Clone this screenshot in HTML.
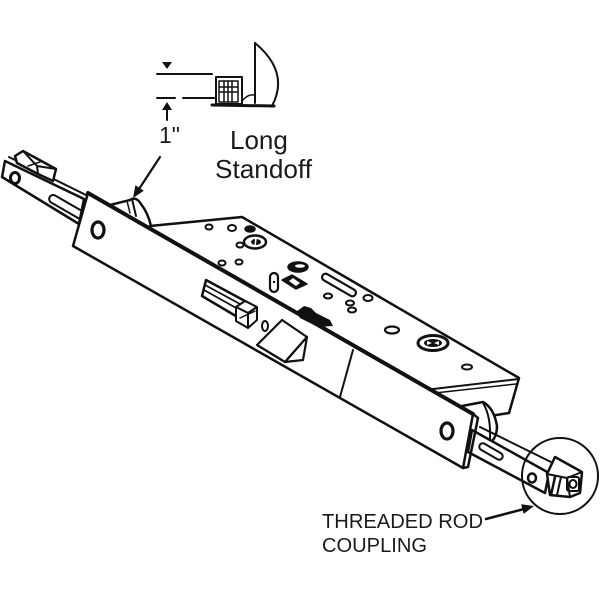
<!DOCTYPE html>
<html><head><meta charset="utf-8"><style>
html,body{margin:0;padding:0;background:#fff;}
svg{display:block;}
text{font-family:"Liberation Sans",Arial,sans-serif;fill:#1a1a1a;}
</style></head><body>
<svg width="600" height="600" viewBox="0 0 600 600" xmlns="http://www.w3.org/2000/svg">
<rect width="600" height="600" fill="#fff"/>
<g fill="none" stroke="#111" stroke-width="2.5" stroke-linejoin="round" stroke-linecap="round">

<!-- ===== Standoff detail (top) ===== -->
<polygon points="162,62 172,62 167,69" fill="#111" stroke="none"/>
<line x1="157" y1="74" x2="212" y2="74" stroke-width="2"/>
<line x1="157" y1="98" x2="175" y2="98" stroke-width="2"/>
<line x1="183" y1="98" x2="214" y2="98" stroke-width="2"/>
<polygon points="162,110 172,110 167,102" fill="#111" stroke="none"/>
<line x1="167" y1="108" x2="167" y2="120" stroke-width="2"/>
<rect x="216" y="77" width="26" height="27" stroke-width="2"/>
<rect x="219" y="81" width="19" height="21" stroke-width="1.5"/>
<line x1="224" y1="81" x2="224" y2="102" stroke-width="1.5"/>
<line x1="228" y1="81" x2="228" y2="102" stroke-width="1.5"/>
<line x1="232" y1="81" x2="232" y2="102" stroke-width="1.5"/>
<line x1="219" y1="87" x2="238" y2="87" stroke-width="1.5"/>
<line x1="219" y1="92" x2="238" y2="92" stroke-width="1.5"/>
<line x1="255" y1="43" x2="255" y2="103" stroke-width="2"/>
<path d="M255,43 Q290,72 272,106" stroke-width="2"/>
<line x1="212" y1="105" x2="274" y2="106" stroke-width="3"/>
<path d="M243,100 Q248,94 254,95" stroke-width="1.5"/>

<!-- 1" arrow -->
<line x1="160" y1="157" x2="139" y2="189" stroke-width="2.2"/>
<polygon points="133,198 143.8,190.8 135.4,185.2" fill="#111" stroke="none"/>

<!-- ===== Left rod ===== -->
<polygon points="5,161 84,199 79,224 2,177" fill="#fff"/>
<line x1="9" y1="157" x2="86" y2="195" stroke-width="2"/>
<ellipse cx="15" cy="178" rx="4.5" ry="5.5" stroke-width="3"/>
<rect x="47" y="203" width="40" height="8" rx="4" transform="rotate(30 67 207)" stroke-width="2"/>
<polygon points="15,156 23,151 56,169 53,181 38,174 17,163" fill="#fff"/>
<polyline points="23,151 37,166 56,169" stroke-width="2"/>
<line x1="37" y1="166" x2="38" y2="174" stroke-width="2"/>
<line x1="28" y1="166" x2="40" y2="162" stroke-width="1.5"/>

<!-- left standoff -->
<path d="M110,205 L130,200 Q136,196 141,204 Q148,213 151,226" fill="#fff"/>
<line x1="132" y1="199" x2="136" y2="216" stroke-width="2"/>
<line x1="127" y1="201" x2="130" y2="213" stroke-width="1.5"/>

<!-- ===== Case body ===== -->
<polygon points="150,226 242,217 519,378 509,413 490,416 440,400 150,245" fill="#fff"/>
<line x1="433" y1="389" x2="519" y2="379" stroke-width="2"/>
<line x1="435" y1="393" x2="516" y2="384" stroke-width="1.5"/>

<!-- holes on case -->
<ellipse cx="209" cy="227" rx="3.5" ry="2.5" stroke-width="2"/>
<ellipse cx="232" cy="228" rx="4" ry="3" stroke-width="2"/>
<ellipse cx="250" cy="229" rx="5" ry="3" fill="#111" stroke-width="1.5"/>
<ellipse cx="255" cy="242" rx="11" ry="6.5" stroke-width="2.5"/>
<ellipse cx="256" cy="242" rx="5" ry="3" fill="#111" stroke="none"/>
<line x1="256" y1="238" x2="255" y2="246" stroke="#fff" stroke-width="1.5"/>
<ellipse cx="240" cy="245" rx="3.5" ry="2.5" stroke-width="2"/>
<ellipse cx="222" cy="263" rx="3.5" ry="2.5" stroke-width="2"/>
<ellipse cx="239" cy="262" rx="3.5" ry="2.5" stroke-width="2"/>
<ellipse cx="298" cy="267" rx="10" ry="5" fill="#111" stroke-width="1.5"/>
<ellipse cx="300" cy="266" rx="5" ry="1.8" fill="#fff" stroke="none"/>
<rect x="270" y="273" width="8" height="19" rx="4" stroke-width="2.2"/>
<circle cx="274" cy="282" r="1.2" fill="#111" stroke="none"/>
<polygon points="282,280 292,275 307,284 296,289" fill="#111" stroke-width="1.5"/>
<polygon points="289,281 293,278 300,283 296,286" fill="#fff" stroke="none"/>
<rect x="320" y="281.5" width="38" height="7" rx="3.5" transform="rotate(30 339 285)" stroke-width="2.2"/>
<ellipse cx="328" cy="296" rx="4" ry="2.5" stroke-width="2"/>
<ellipse cx="368" cy="298" rx="4.5" ry="3" stroke-width="2"/>
<ellipse cx="350" cy="303" rx="4" ry="2.5" stroke-width="2"/>
<ellipse cx="352" cy="310" rx="4" ry="2.5" stroke-width="2"/>
<ellipse cx="392" cy="330" rx="7" ry="3.5" stroke-width="2.2"/>
<ellipse cx="433" cy="343" rx="15" ry="7.5" stroke-width="3"/>
<ellipse cx="433" cy="343" rx="9" ry="4" fill="#111" stroke="none"/>
<polygon points="427,341 432,343 427,345" fill="#fff" stroke="none"/>
<polygon points="439,341 434,343 439,345" fill="#fff" stroke="none"/>
<ellipse cx="467" cy="367" rx="5" ry="2.5" stroke-width="2"/>

<!-- right standoff -->
<path d="M462,406 L483,402 Q494,408 497,426 Q497,436 492,441" fill="#fff"/>
<path d="M483,403 Q491,416 490,439" stroke-width="2"/>

<!-- ===== Right rod ===== -->
<polygon points="472,430 549,473 545,493 468,452" fill="#fff"/>
<line x1="480" y1="427" x2="553" y2="463" stroke-width="2"/>
<rect x="478" y="448" width="26" height="7" rx="3.5" transform="rotate(30 491 451.5)" stroke-width="2"/>
<ellipse cx="532" cy="478" rx="4" ry="4.5" stroke-width="2.5"/>
<!-- coupling -->
<polygon points="547,474 555,457 582,472 580,493 570,497 550,495" fill="#fff"/>
<polyline points="547,474 567,478 582,472" stroke-width="2"/>
<line x1="567" y1="478" x2="570" y2="497" stroke-width="2"/>
<line x1="555" y1="477" x2="551" y2="495" stroke-width="2.5"/>
<line x1="561" y1="477" x2="557" y2="495" stroke-width="2"/>
<rect x="567" y="477" width="12" height="14" rx="2" stroke-width="2"/>
<ellipse cx="573" cy="484" rx="3.5" ry="4" stroke-width="2"/>

<!-- ===== Faceplate ===== -->
<polygon points="88,193 473,414 463,468 73,246" fill="#fff" stroke-width="2.5"/>
<line x1="88" y1="193" x2="473" y2="414" stroke-width="4"/>
<polyline points="473,414 478,418 468,467 463,468" stroke-width="2.5"/>
<ellipse cx="98" cy="230" rx="6" ry="8" stroke-width="3.2"/>
<ellipse cx="447" cy="431" rx="6" ry="8" stroke-width="3.2"/>
<line x1="353" y1="350" x2="340" y2="397" stroke-width="2"/>

<!-- aux latch slot -->
<polygon points="206,280 256,307 251,325 202,296" stroke-width="2.5"/>
<line x1="205" y1="285" x2="240" y2="304" stroke-width="1.8"/>
<line x1="204" y1="290" x2="238" y2="309" stroke-width="1.8"/>
<polygon points="236,307 245,301 257,307 248,313" fill="#fff" stroke-width="2"/>
<polygon points="236,307 248,313 248,328 236,321" fill="#fff" stroke-width="2"/>
<polygon points="248,313 257,307 257,320 248,328" fill="#fff" stroke-width="2"/>
<line x1="240" y1="318" x2="255" y2="311" stroke-width="1.5"/>

<ellipse cx="265" cy="326" rx="3" ry="5" stroke-width="2"/>

<!-- main latch -->
<polygon points="257,345 282,320 307,337 285,362" fill="#fff" stroke-width="2.2"/>
<polygon points="285,362 303,360 307,337" fill="#fff" stroke-width="2.2"/>

<!-- dark latch blob on top edge -->
<path d="M296,312 L304,306 L311,308 L316,313 L330,320 L333,326 L318,327 L300,318 Z" fill="#111" stroke="none"/>

<!-- leader arrow -->
<line x1="486" y1="519" x2="524" y2="509" stroke-width="2.5"/>
<polygon points="534,506 523.7,513.9 521.1,504.3" fill="#111" stroke="none"/>

<!-- circle -->
<circle cx="560" cy="476" r="38" stroke-width="2"/>
</g>

<!-- text -->
<text x="159" y="143" font-size="23">1"</text>
<text x="230" y="149" font-size="26">Long</text>
<text x="215" y="178" font-size="26" textLength="97" lengthAdjust="spacingAndGlyphs">Standoff</text>
<text x="322" y="528" font-size="20" textLength="161" lengthAdjust="spacingAndGlyphs">THREADED ROD</text>
<text x="322" y="552" font-size="20" textLength="105" lengthAdjust="spacingAndGlyphs">COUPLING</text>
</svg>
</body></html>
